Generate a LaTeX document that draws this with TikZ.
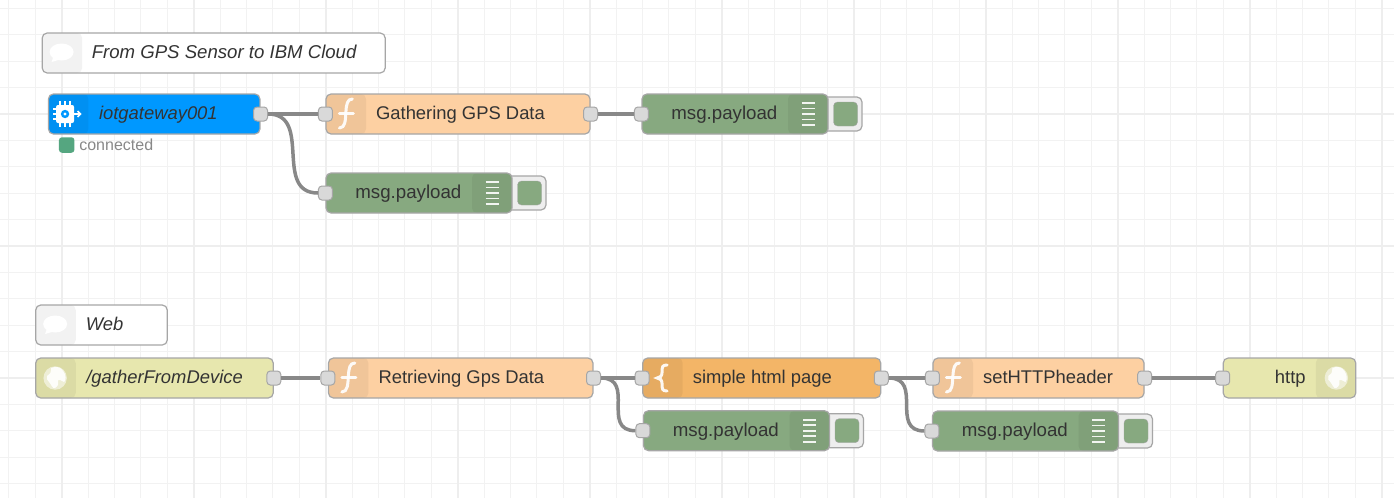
\documentclass[tikz,border=0pt]{standalone}
\usepackage{fontspec}
\setmainfont{Liberation Sans}
\usetikzlibrary{calc}
\definecolor{gridline}{HTML}{F2F2F2}
\definecolor{gridmajor}{HTML}{EEEEEE}
\definecolor{nodeborder}{HTML}{A6A6A6}
\definecolor{linkgray}{HTML}{888888}
\definecolor{labelgray}{HTML}{333333}
\definecolor{gatewayblue}{HTML}{0098FF}
\definecolor{funcorange}{HTML}{FDD0A2}
\definecolor{templateorange}{HTML}{F3B567}
\definecolor{debuggreen}{HTML}{87A980}
\definecolor{httpyellow}{HTML}{E7E7AE}
\definecolor{statusgreen}{HTML}{55A680}
\tikzset{
    flowbox/.style={draw=nodeborder, line width=1.2pt, rounded corners=5pt, inner sep=0pt, minimum height=40},
    % darker icon tab, clipped by the rounded box
    lefttab/.style={path picture={\fill[black, opacity=0.05] (path picture bounding box.north west) rectangle ([xshift=40]path picture bounding box.south west);}},
    righttab/.style={path picture={\fill[black, opacity=0.05] (path picture bounding box.north east) rectangle ([xshift=-40]path picture bounding box.south east);}},
    portbox/.style={draw=nodeborder, fill=gray!30, line width=1pt, rounded corners=3.5pt, inner sep=0pt, minimum size=14},
    link/.style={draw=linkgray, line width=3.5pt},
    flowlabel/.style={anchor=base west, text=labelgray, inner sep=0pt, font=\fontsize{18.4}{22}\selectfont},
    namelabel/.style={flowlabel, font=\fontsize{18.4}{22}\selectfont\itshape},
    iconline/.style={draw=white, line width=3pt, line cap=round, opacity=0.92},
    funcicon/.pic={
        \draw[iconline] (7,-15) .. controls (2,-15) and (1,-10) .. (0.5,-2) .. controls (0,6) and (0,14) .. (-6,14);
        \draw[iconline] (-6,-1) -- (8,-1);
    },
    braceicon/.pic={
        \draw[iconline] (5,-13) .. controls (0,-13) and (0,-11) .. (0,-6) .. controls (0,-2) and (-2,0) .. (-5,0)
            .. controls (-2,0) and (0,2) .. (0,6) .. controls (0,11) and (0,13) .. (5,13);
    },
    globeicon/.pic={
        \fill[white, opacity=0.55] (0,0) circle (11.7);
        \fill[white, opacity=0.9] (-4,-10) .. controls (0,-12) and (6,-11) .. (8,-7) .. controls (11,-3) and (11,2) .. (9,4)
            .. controls (6,3) and (5,1) .. (3,2) .. controls (4,5) and (3,8) .. (0,10)
            .. controls (-3,11) and (-4,6) .. (-6,4) .. controls (-8,3) and (-9,0) .. (-8,-2)
            .. controls (-5,-3) and (-4,-6) .. cycle;
    },
    bubbleicon/.pic={
        \fill[white] (0,-1) ellipse (12 and 8.5);
        \fill[white] (-8,3) -- (-10,9) -- (0,6) -- cycle;
    },
    chipicon/.pic={
        \foreach \d in {-5,0,5} {
            \draw[white, line width=1.5pt] (\d,-13) -- (\d,13);
            \draw[white, line width=1.5pt] (-12,\d) -- (9,\d);
        }
        \fill[white, rounded corners=2pt] (-9,-9) rectangle (9,9);
        \fill[gatewayblue] (0,0) circle (4.2);
        \fill[white] (0,0) circle (1.6);
        \draw[white, line width=1.5pt] (8,0) -- (15.5,0);
        \draw[white, line width=1.5pt] (12.5,-3) -- (15.5,0) -- (12.5,3);
    }
}
\begin{document}
\begin{tikzpicture}[x=1pt, y=-1pt]
    \useasboundingbox (0,0) rectangle (1394,498);
    \fill[white] (0,0) rectangle (1394,498);

    % background grid
    \foreach \k in {0,...,52}
        \draw[gridline, line width=1pt] ({8.9+26.4*\k},0) -- ({8.9+26.4*\k},498);
    \foreach \k in {0,...,18}
        \draw[gridline, line width=1pt] (0,{8.4+26.4*\k}) -- (1394,{8.4+26.4*\k});
    \foreach \k in {0,...,10}
        \draw[gridmajor, line width=1.6pt] ({61.7+132*\k},0) -- ({61.7+132*\k},498);
    \foreach \k in {0,...,2}
        \draw[gridmajor, line width=1.6pt] (0,{114+132*\k}) -- (1394,{114+132*\k});

    % comments
    \node[flowbox, fill=white, lefttab, minimum width=343] (gpscomment) at (213.7,53) {};
    \pic at ($(gpscomment.west)+(20,0)$) {bubbleicon};
    \node[namelabel, font=\fontsize{18.6}{22}\selectfont\itshape] at ($(gpscomment.west)+(50,5.8)$) {From GPS Sensor to IBM Cloud};
    \node[flowbox, fill=white, lefttab, minimum width=131.5] (webcomment) at (101.5,325) {};
    \pic at ($(webcomment.west)+(20,0)$) {bubbleicon};
    \node[namelabel] at ($(webcomment.west)+(50.5,5.8)$) {Web};

    % gateway
    \node[flowbox, fill=gatewayblue, lefttab, minimum width=211.5] (gateway) at (154.2,114) {};
    \pic at ($(gateway.west)+(17.2,0)$) {chipicon};
    \node[namelabel] at ($(gateway.west)+(51,5.8)$) {iotgateway001};
    \node[fill=statusgreen, rounded corners=3pt, inner sep=0pt, minimum size=15.5] (gatewaystatus) at (66.7,145) {};
    \node[anchor=west, text=linkgray, inner sep=0pt, font=\fontsize{16}{19}\selectfont] at ($(gatewaystatus.east)+(4.5,-0.5)$) {connected};

    % function nodes
    \node[flowbox, fill=funcorange, lefttab, minimum width=264] (gathering) at (458,114) {};
    \pic at ($(gathering.west)+(20,0)$) {funcicon};
    \node[flowlabel] at ($(gathering.west)+(50.5,5.8)$) {Gathering GPS Data};
    \node[flowbox, fill=funcorange, lefttab, minimum width=264.5] (retrieving) at (460.7,378) {};
    \pic at ($(retrieving.west)+(20,0)$) {funcicon};
    \node[flowlabel] at ($(retrieving.west)+(50.5,5.8)$) {Retrieving Gps Data};
    \node[flowbox, fill=funcorange, lefttab, minimum width=211] (setheader) at (1038.5,378) {};
    \pic at ($(setheader.west)+(20,0)$) {funcicon};
    \node[flowlabel] at ($(setheader.west)+(50.5,5.8)$) {setHTTPheader};

    % template
    \node[flowbox, fill=templateorange, lefttab, minimum width=238] (template) at (761.7,378) {};
    \pic at ($(template.west)+(20,0)$) {braceicon};
    \node[flowlabel] at ($(template.west)+(50.5,5.8)$) {simple html page};

    % http in and out
    \node[flowbox, fill=httpyellow, lefttab, minimum width=237.5] (httpin) at (154.5,378) {};
    \pic at ($(httpin.west)+(20,0)$) {globeicon};
    \node[namelabel] at ($(httpin.west)+(51,5.8)$) {/gatherFromDevice};
    \node[flowbox, fill=httpyellow, righttab, minimum width=132.5] (httpout) at (1289.5,378) {};
    \pic at ($(httpout.east)+(-20,0)$) {globeicon};
    \node[flowlabel, anchor=base east] at ($(httpout.east)+(-50.5,5.8)$) {http};

    % debug nodes
    \foreach \name/\x/\y in {debuga/735/114, debugb/419/193, debugc/736.5/430.7, debugd/1025.5/431} {
        \node[flowbox, fill=gridmajor, minimum width=44, minimum height=34] (\name btn) at (\x+105,\y) {};
        \node[fill=debuggreen, draw=nodeborder, rounded corners=4pt, inner sep=0pt, minimum size=24] at (\x+110.5,\y) {};
        \node[flowbox, fill=debuggreen, righttab, minimum width=186] (\name) at (\x,\y) {};
        \node[flowlabel, anchor=base east, font=\fontsize{18.7}{22}\selectfont] at ($(\name.east)+(-51,5.8)$) {msg.payload};
        \foreach \d in {-11,-5.5,0,5.5,11}
            \draw[white, line width=1.7pt, opacity=0.9] (\x+66.5,\y+\d) -- (\x+79.5,\y+\d);
        \node[portbox] (\name in) at (\name.west) {};
    }

    % ports
    \node[portbox] (gatewayout) at (gateway.east) {};
    \node[portbox] (gatheringin) at (gathering.west) {};
    \node[portbox] (gatheringout) at (gathering.east) {};
    \node[portbox] (httpinout) at (httpin.east) {};
    \node[portbox] (retrievingin) at (retrieving.west) {};
    \node[portbox] (retrievingout) at (retrieving.east) {};
    \node[portbox] (templatein) at (template.west) {};
    \node[portbox] (templateout) at (template.east) {};
    \node[portbox] (setheaderin) at (setheader.west) {};
    \node[portbox] (setheaderout) at (setheader.east) {};
    \node[portbox] (httpoutin) at (httpout.west) {};

    % links
    \draw[link] (gatewayout.east) -- (gatheringin.west);
    \draw[link] (gatewayout.east) .. controls +(45,0) and +(-45,0) .. (debugbin.west);
    \draw[link] (gatheringout.east) -- (debugain.west);
    \draw[link] (httpinout.east) -- (retrievingin.west);
    \draw[link] (retrievingout.east) -- (templatein.west);
    \draw[link] (retrievingout.east) .. controls +(35,0) and +(-35,0) .. (debugcin.west);
    \draw[link] (templateout.east) -- (setheaderin.west);
    \draw[link] (templateout.east) .. controls +(35,0) and +(-35,0) .. (debugdin.west);
    \draw[link] (setheaderout.east) -- (httpoutin.west);
\end{tikzpicture}
\end{document}
